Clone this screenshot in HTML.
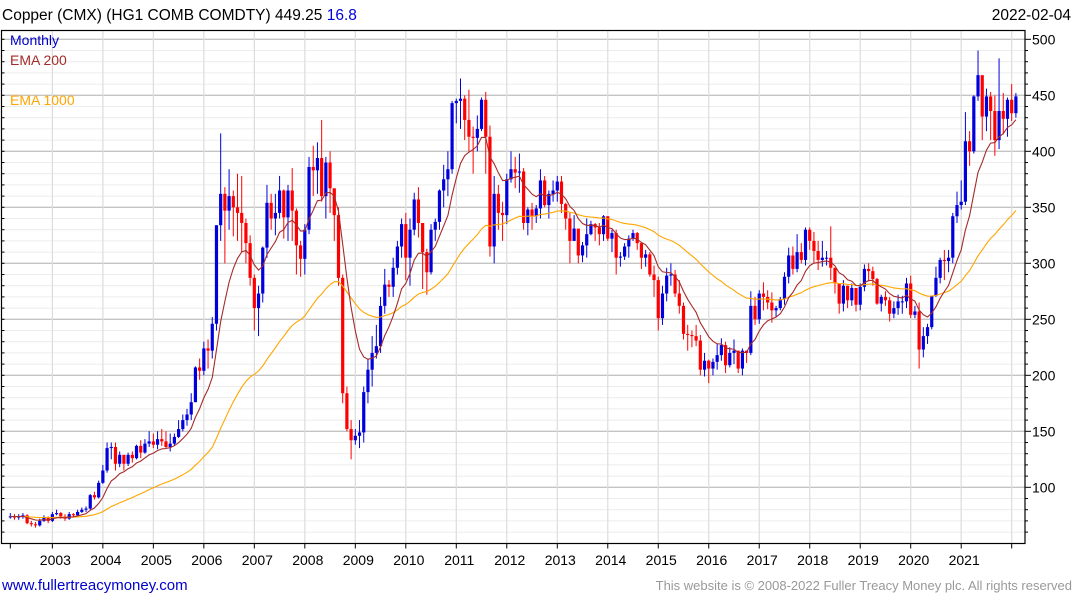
<!DOCTYPE html>
<html><head><meta charset="utf-8">
<style>
html,body{margin:0;padding:0;background:#fff;width:1075px;height:600px;overflow:hidden}
svg{display:block;font-family:"Liberation Sans",sans-serif}
</style></head>
<body>
<svg id="chart" width="1075" height="600" xmlns="http://www.w3.org/2000/svg">
<text x="2" y="20" font-size="15.5" fill="#000">Copper (CMX) (HG1 COMB COMDTY) 449.25 <tspan fill="#0000dd">16.8</tspan></text>
<text x="1071" y="20" font-size="15.5" text-anchor="end" fill="#000">2022-02-04</text>
<g id="grid"></g>
<g id="marks"></g>
<rect x="1.5" y="30.5" width="1023.5" height="513" fill="none" stroke="#000" stroke-width="1.2"/>
<g id="axes"></g>
<text x="10" y="45" font-size="14" fill="#0000cc">Monthly</text>
<text x="10" y="65" font-size="14" fill="#a52a2a">EMA 200</text>
<text x="10" y="105" font-size="14" fill="#ffa500">EMA 1000</text>
<text x="2" y="590" font-size="15" fill="#0000cc">www.fullertreacymoney.com</text>
<text x="1072" y="590" font-size="13" text-anchor="end" fill="#999">This website is © 2008-2022 Fuller Treacy Money plc. All rights reserved</text>
</svg>
<script>
const startYear = 2002;
const startMonth = 3;
const yearLabels = ["2003","2004","2005","2006","2007","2008","2009","2010","2011","2012","2013","2014","2015","2016","2017","2018","2019","2020","2021"];
const yTicks = [100,150,200,250,300,350,400,450,500];
const firstOpen = 74;
const closes = [
74,73,74,75,68,67,66,70,73,70,
76,77,74,72,76,75,78,80,81,93,91,104,
115,135,136,121,129,121,129,126,137,131,139,141,
138,143,141,136,139,145,152,160,165,176,207,204,
224,222,246,334,362,347,360,350,345,336,318,287,
260,273,314,354,340,345,365,341,365,347,316,304,
330,386,383,394,360,390,367,343,287,184,152,142,
146,149,185,205,220,226,262,281,279,296,315,335,
305,330,357,336,310,292,330,337,365,375,384,443,
445,447,428,413,412,420,446,413,315,362,345,343,
375,384,381,382,336,348,342,349,374,352,362,365,
373,353,340,320,331,307,316,326,335,332,326,342,
322,327,305,306,315,322,327,318,305,308,290,285,
251,273,289,290,273,262,237,236,235,231,205,213,
206,212,218,227,209,220,222,206,222,220,262,250,
273,270,265,258,260,268,288,307,295,310,303,330,
320,311,303,305,305,296,282,264,280,267,278,263,
279,295,293,286,264,270,267,255,260,266,266,282,
254,257,223,235,243,271,287,303,302,305,342,352,
355,409,400,449,468,431,449,436,410,436,429,446,
434,449];
const highs = [
77,76,76,77,76,70,69,72,75,74,
78,80,78,76,78,77,80,82,83,94,96,106,
120,140,140,140,132,128,131,132,138,142,143,150,
148,150,152,150,148,148,160,165,170,184,208,215,
230,232,252,334,416,368,384,365,380,378,340,325,
290,280,315,370,362,362,378,366,370,385,349,320,
335,395,405,408,428,395,400,355,350,290,190,160,
152,160,190,215,235,245,270,295,285,305,320,340,
345,340,363,368,325,313,335,340,366,388,400,445,
447,465,450,455,422,432,448,453,423,378,370,355,
380,400,395,398,385,350,354,352,384,378,365,374,
378,378,354,345,343,330,319,340,338,336,336,343,
342,330,330,310,318,325,330,328,318,312,310,298,
288,280,296,300,294,285,265,245,240,245,236,220,
214,215,228,233,230,225,232,222,224,222,275,270,
276,283,276,274,262,270,292,314,315,326,318,332,
332,328,320,320,311,333,285,282,285,280,282,278,
282,299,300,297,287,272,275,270,266,272,271,287,
289,262,265,243,246,271,297,305,312,312,345,364,
374,435,418,450,490,463,456,453,450,483,452,448,
460,452];
const lows = [
72,71,71,72,67,65,64,65,69,68,
69,75,72,70,71,73,74,77,78,80,89,90,
103,113,125,115,118,115,119,122,125,126,130,136,
135,134,137,135,132,137,144,150,155,160,176,196,
200,206,215,240,320,300,330,324,320,310,300,280,
240,235,265,305,330,325,340,322,320,320,290,288,
290,326,360,362,355,340,345,320,280,175,150,125,
138,135,140,175,190,215,220,255,270,270,290,305,
285,280,325,323,277,272,290,320,330,350,360,380,
425,420,410,400,380,400,418,380,306,300,330,320,
335,372,367,363,330,325,330,336,340,350,340,355,
355,345,330,300,320,300,301,305,325,320,316,320,
320,310,290,297,303,305,320,312,295,297,288,270,
240,245,266,280,270,255,232,222,225,226,200,199,
193,200,205,213,202,207,210,202,200,211,218,245,
246,258,259,247,252,258,263,282,290,292,300,298,
312,300,294,297,298,285,273,255,257,260,262,257,
258,275,284,280,263,257,262,248,251,254,255,260,
251,251,206,216,228,241,270,282,285,292,300,336,
348,352,387,398,445,410,418,410,396,402,415,413,
427,430];

const NS = "http://www.w3.org/2000/svg";
const PL = 1.5, PR = 1025, PT = 30.5, PB = 543.5;
const YEAR_PX = 50.49;
function yScale(v){ return 39.3 + (500 - v) * 1.12; }
// i = months since startMonth/startYear
function xScale(i){ return 10.3 + i * YEAR_PX / 12; }
function xYear(y){ return xScale((y - startYear) * 12 - (startMonth - 1)); }
function mk(tag, attrs, parent){ const e = document.createElementNS(NS, tag); for (const k in attrs) e.setAttribute(k, attrs[k]); parent.appendChild(e); return e; }

const grid = document.getElementById('grid');
const axes = document.getElementById('axes');
const marks = document.getElementById('marks');

for (let v = 60; v <= 500; v += 10) {
  const y = yScale(v);
  if (y < PT || y > PB) continue;
  const major = v % 50 === 0;
  const ln = mk('line', {x1: PL, x2: PR, y1: y, y2: y, stroke: major ? '#c4c4c4' : '#ececec', 'stroke-width': major ? 1.3 : 1}, grid);
  
  
  const tk = mk('line', {x1: PR, x2: PR + (major ? 6 : 3), y1: y, y2: y, stroke: '#000'}, axes);
  
  
  const tl = mk('line', {x1: PL, x2: PL + 3, y1: y, y2: y, stroke: '#000'}, axes);
  
  
}
yTicks.forEach(v => {
  const t = mk('text', {x: 1032, y: yScale(v) + 5, 'font-size': 14, fill: '#000'}, axes);
  t.textContent = v;
  
  
});
// axis-start tick
const t0 = mk('line', {x1: 10.3, x2: 10.3, y1: PB, y2: PB + 5, stroke: '#000'}, axes);


for (let y = 2003; y <= 2022; y++) {
  const x = xYear(y);
  const g = mk('line', {x1: x, x2: x, y1: PT, y2: PB, stroke: '#dcdcdc', 'stroke-width': 1.2}, grid);
  
  
  const t = mk('line', {x1: x, x2: x, y1: PB, y2: PB + 5, stroke: '#000'}, axes);
  
  
}
yearLabels.forEach(lbl => {
  const t = mk('text', {x: xYear(parseInt(lbl)) + 3, y: 565, 'font-size': 14, 'text-anchor': 'middle', fill: '#000'}, axes);
  t.textContent = lbl;
  
  
});

function ema(arr, n){ const a = 2 / (n + 1); const out = []; let e = arr[0]; arr.forEach((v, i) => { e = i === 0 ? v : e + a * (v - e); out.push(e); }); return out; }
const emaFast = ema(closes, 10);
const emaSlow = ema(closes, 48);
function linePath(arr){ return arr.map((v, i) => (i ? 'L' : 'M') + xScale(i).toFixed(1) + ' ' + yScale(v).toFixed(1)).join(' '); }

closes.forEach((c, i) => {
  const o = i === 0 ? firstOpen : closes[i - 1];
  const up = c >= o;
  const col = up ? '#0000dd' : '#ff0000';
  const x = xScale(i);
  const w = mk('line', {x1: x, x2: x, y1: yScale(highs[i]), y2: yScale(lows[i]), stroke: col, 'stroke-width': 1}, marks);
  
  
  const top = yScale(Math.max(o, c)), bot = yScale(Math.min(o, c));
  const b = mk('rect', {x: x - 1.6, y: top, width: 3.2, height: Math.max(1, bot - top), fill: col}, marks);
  
  
});
const slow = mk('path', {d: linePath(emaSlow), fill: 'none', stroke: '#ffa500', 'stroke-width': 1.1}, marks);


const fast = mk('path', {d: linePath(emaFast), fill: 'none', stroke: '#a52a2a', 'stroke-width': 1.1}, marks);


</script>
</body></html>
